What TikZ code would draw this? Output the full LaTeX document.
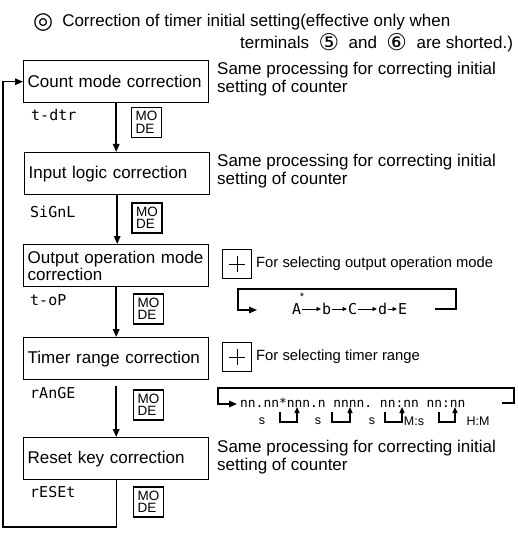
\documentclass[tikz,border=0pt]{standalone}
\usepackage{fontspec}
\setmainfont{Liberation Sans}
\setmonofont{DejaVu Sans Mono}
\newfontfamily\symfont{DejaVu Sans}
\usetikzlibrary{arrows.meta}

\begin{document}
\begin{tikzpicture}[x=1pt,y=-1pt,>={Triangle[length=8pt,width=6.5pt]},
  stage/.style={draw,line width=1.4pt,anchor=north west,minimum width=185pt,
    minimum height=42pt,text width=177pt,inner xsep=4pt,inner ysep=2pt,
    align=left,font=\fontsize{17}{17}\selectfont},
  modekey/.style={draw,line width=1.4pt,minimum size=30pt,inner sep=1pt,
    align=left,font=\fontsize{13.5}{12.5}\selectfont},
  plusbtn/.style={draw,line width=1.3pt,minimum size=29pt,inner sep=0pt,
    path picture={\draw[line width=0.6pt]
      ([xshift=-8pt]path picture bounding box.center) -- ([xshift=8pt]path picture bounding box.center)
      ([yshift=-8pt]path picture bounding box.center) -- ([yshift=8pt]path picture bounding box.center);}},
  disp/.style={anchor=west,inner sep=0pt,font=\ttfamily\fontsize{15}{15}\selectfont},
  note/.style={anchor=west,inner sep=0pt,align=left,font=\fontsize{17}{18}\selectfont},
  hint/.style={anchor=west,inner sep=0pt,font=\fontsize{14.8}{16}\selectfont},
  flow/.style={->,line width=1.6pt},
  loopline/.style={->,line width=1.4pt},
  seq/.style={-{Triangle[length=4.5pt,width=4pt]},line width=0.8pt,shorten <=1pt,shorten >=1pt},
  unit/.style={inner sep=0pt,font=\fontsize{12.5}{13}\selectfont}]

  \useasboundingbox (0,0) rectangle (517,540);

  % --- heading -----------------------------------------------------
  \node[anchor=west,inner sep=0pt,font=\fontsize{17}{18}\selectfont] (title1) at (33,23)
       {\raisebox{-2pt}{\symfont\fontsize{23}{23}\selectfont ◎}\hspace{9pt}Correction of timer initial setting(effective only when};
  \node[anchor=west,inner sep=0pt,font=\fontsize{17}{18}\selectfont] (title2) at (240,43)
       {terminals\ \ \raisebox{-2pt}{\symfont\fontsize{23}{23}\selectfont ⑤}\ \ and\ \ \raisebox{-2pt}{\symfont\fontsize{23}{23}\selectfont ⑥}\ \ are shorted.)};

  % --- correction stages -------------------------------------------
  \node[stage] (count)  at (23,60)  {Count mode correction};
  \node[stage] (logic)  at (24,152) {Input logic correction};
  \node[stage] (output) at (23,244) {Output operation mode\\correction};
  \node[stage] (range)  at (23,337) {Timer range correction};
  \node[stage] (reset)  at (23,437) {Reset key correction};

  % display readings
  \node[disp] (dcount)  at (31,115) {t-dtr};
  \node[disp] (dlogic)  at (30,212) {SiGnL};
  \node[disp] (doutput) at (30,300) {t-oP};
  \node[disp] (drange)  at (30,393) {rAnGE};
  \node[disp] (dreset)  at (30,492) {rESEt};

  % MODE keys
  \node[modekey] (kcount)  at (146.5,122.5) {MO\\DE};
  \node[modekey] (klogic)  at (147,218)     {MO\\DE};
  \node[modekey] (koutput) at (148.5,309)   {MO\\DE};
  \node[modekey] (krange)  at (148.5,405)   {MO\\DE};
  \node[modekey] (kreset)  at (148.5,502)   {MO\\DE};

  % --- flow arrows -------------------------------------------------
  \draw[flow] (count.south)  -- (count.south |- logic.north);
  \draw[flow] (logic.south)  -- (logic.south |- output.north);
  \draw[flow] (output.south) -- (output.south |- range.north);
  \draw[flow] ([yshift=-6pt]range.south) -- (range.south |- reset.north);

  % back to the first stage
  \draw[->,line width=1.2pt] (reset.south) |- (3,527) |- (count.west);

  % --- side notes --------------------------------------------------
  \node[note] (ncount) at (217,79)  {Same processing for correcting initial\\setting of counter};
  \node[note] (nlogic) at (217,171) {Same processing for correcting initial\\setting of counter};
  \node[note] (nreset) at (217,457) {Same processing for correcting initial\\setting of counter};

  % --- output operation mode selection -----------------------------
  \node[plusbtn] (poutput) at (237,264) {};
  \node[hint] (houtput) at (256,264) {For selecting output operation mode};

  \node[disp] (o1) at (292,309) {A};
  \node[disp] (o2) at (322,309) {b};
  \node[disp] (o3) at (348,309) {C};
  \node[disp] (o4) at (378,309) {d};
  \node[disp] (o5) at (398,309) {E};
  \node[inner sep=0pt,font=\fontsize{11}{11}\selectfont] (ostar) at (302,297) {*};
  \foreach \a/\b in {o1/o2,o2/o3,o3/o4,o4/o5}
      \draw[seq] (\a) -- (\b);

  \coordinate (oin)  at (257,310);
  \coordinate (oout) at (435,309);
  \draw[loopline] (oout) -- ++(21,0) -- ++(0,-20) -| ([xshift=-19pt]oin) -- (oin);

  % --- timer range selection ---------------------------------------
  \node[plusbtn] (prange) at (237,357) {};
  \node[hint] (hrange) at (256,357) {For selecting timer range};

  \node[disp,font=\ttfamily\fontsize{12.9}{13}\selectfont] (rrow) at (240,403)
       {nn.nn*nnn.n nnnn. nn:nn nn:nn};

  \node[unit] (u1) at (262,421) {s};
  \node[unit] (u2) at (318,421) {s};
  \node[unit] (u3) at (372,421) {s};
  \node[unit] (u4) at (414,421) {M:s};
  \node[unit] (u5) at (478,421) {H:M};

  \foreach \xa/\xb in {280/297,332/350,385/402,439/455}
      \draw[-{Triangle[length=6pt,width=5pt]},line width=1.3pt]
          (\xa,412) -- (\xa,422) -- (\xb,422) -- (\xb,407);

  \coordinate (rin)  at (237,404);
  \coordinate (rout) at (502,403);
  \draw[loopline] (rout) -- ++(12,0) -- ++(0,-15) -| ([xshift=-19pt]rin) -- (rin);

\end{tikzpicture}
\end{document}
